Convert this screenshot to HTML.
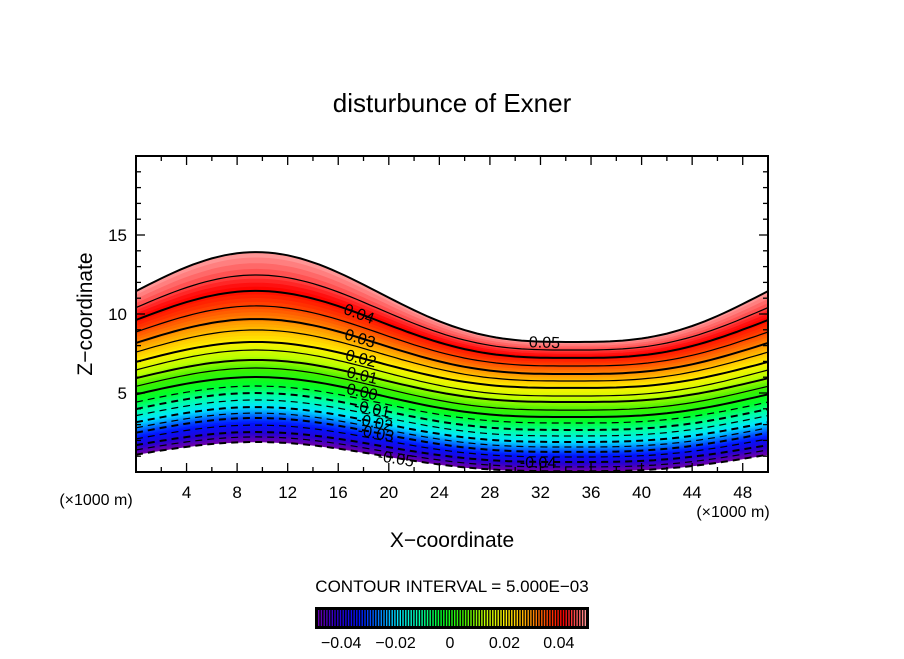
<!DOCTYPE html>
<html><head><meta charset="utf-8"><style>
body{margin:0;background:#fff;}
svg text{font-family:"Liberation Sans",sans-serif;fill:#000;}
</style></head><body>
<svg id="chart" width="904" height="654" viewBox="0 0 904 654" xmlns="http://www.w3.org/2000/svg">
<text x="452" y="112" font-size="26" text-anchor="middle">disturbunce of Exner</text>
<g id="plot"></g>
<text x="0" y="0" font-size="21" text-anchor="middle" transform="translate(92,314) rotate(-90)">Z−coordinate</text>
<text x="452" y="547" font-size="21" text-anchor="middle">X−coordinate</text>
<text x="96" y="505" font-size="16" text-anchor="middle">(×1000 m)</text>
<text x="733" y="517" font-size="16" text-anchor="middle">(×1000 m)</text>
<text x="452" y="592" font-size="17" text-anchor="middle">CONTOUR INTERVAL = 5.000E−03</text>
<g id="cbar"></g>
</svg>
<script>
const levels=[0.05,0.045,0.04,0.035,0.03,0.025,0.02,0.015,0.01,0.005,0,-0.005,-0.01,-0.015,-0.02,-0.025,-0.03,-0.035,-0.04,-0.045,-0.05];
const zPeak=[13.92,12.47,11.46,10.51,9.68,8.99,8.23,7.72,7.09,6.58,6.01,5.44,5.00,4.56,4.11,3.73,3.42,2.97,2.53,2.22,1.90];
const zTrough=[8.23,7.72,7.22,6.71,6.20,5.76,5.32,4.81,4.43,3.92,3.48,3.10,2.66,2.28,1.90,1.58,1.27,0.95,0.63,0.32,0.05];
const xTicks=[4,8,12,16,20,24,28,32,36,40,44,48];
const yTicks=[5,10,15];
const cbarTicks=[-0.04,-0.02,0,0.02,0.04];
const cbarTickLabels=["−0.04","−0.02","0","0.02","0.04"];
const labelVals=[0.05,0.04,0.03,0.02,0.01,0,-0.01,-0.02,-0.03,-0.04,-0.05];
const labelXs=[32.3,17.5,17.6,17.7,17.8,17.8,18.6,18.8,18.9,31.8,20.5];

const NS="http://www.w3.org/2000/svg";
const X0=136,X1=768,Y0=472,Y1=156;
const sx=x=>X0+(x/50)*(X1-X0);
const sy=z=>Y0-(z/20)*(Y0-Y1);
function shape(x){const c=(1+Math.cos(2*Math.PI*(x-9.5)/50))/2;return Math.pow(c,1.5);}
function zAt(i,x){return zTrough[i]+(zPeak[i]-zTrough[i])*shape(x);}
const stops=[[-0.05,[110,0,170]],[-0.042,[40,0,210]],[-0.034,[0,20,255]],[-0.027,[0,120,255]],[-0.02,[0,230,255]],[-0.012,[0,255,170]],[-0.004,[0,255,40]],[0.004,[60,240,0]],[0.012,[190,255,0]],[0.02,[255,240,0]],[0.028,[255,160,0]],[0.035,[255,70,0]],[0.041,[255,0,0]],[0.05,[255,160,160]]];
function color(v){
  if(v<=stops[0][0])return `rgb(${stops[0][1]})`;
  for(let i=1;i<stops.length;i++){if(v<=stops[i][0]){const a=stops[i-1],b=stops[i];const t=(v-a[0])/(b[0]-a[0]);const c=a[1].map((q,k)=>Math.round(q+(b[1][k]-q)*t));return `rgb(${c})`;}}
  return `rgb(${stops[stops.length-1][1]})`;
}
const plot=document.getElementById('plot');
const N=100;
function pts(i){const a=[];for(let k=0;k<=N;k++){const x=50*k/N;a.push(sx(x).toFixed(1)+','+sy(zAt(i,x)).toFixed(1));}return a;}
for(let i=0;i<levels.length-1;i++){
  const sub=4;
  for(let s=0;s<sub;s++){
    const f0=s/sub,f1=(s+1)/sub;
    const a=[],b=[];
    for(let k=0;k<=N;k++){const x=50*k/N;const zt=zAt(i,x),zb=zAt(i+1,x);
      a.push(sx(x).toFixed(1)+','+sy(zt+(zb-zt)*f0).toFixed(1));
      b.push(sx(x).toFixed(1)+','+sy(zt+(zb-zt)*f1).toFixed(1));}
    const p=document.createElementNS(NS,'polygon');
    
    
    p.setAttribute('points',a.concat(b.reverse()).join(' '));
    const v=levels[i]+(levels[i+1]-levels[i])*(f0+f1)/2;
    p.setAttribute('fill',color(v));p.setAttribute('stroke',color(v));p.setAttribute('stroke-width','0.6');
    plot.appendChild(p);
  }
}
for(let i=0;i<levels.length;i++){
  const l=document.createElementNS(NS,'polyline');
  
  
  l.setAttribute('points',pts(i).join(' '));
  l.setAttribute('fill','none');l.setAttribute('stroke','#000');
  const major=Math.abs(Math.round(levels[i]*200))%2===0;
  l.setAttribute('stroke-width',major?'2':'1.2');
  if(levels[i]<0)l.setAttribute('stroke-dasharray','7,5');
  plot.appendChild(l);
}
labelVals.forEach((v,j)=>{
  const i=levels.findIndex(q=>Math.abs(q-v)<1e-9);
  const x=labelXs[j];
  const px=sx(x),py=sy(zAt(i,x));
  const ang=Math.atan2(sy(zAt(i,x+0.5))-sy(zAt(i,x-0.5)),sx(x+0.5)-sx(x-0.5))*180/Math.PI;
  const t=document.createElementNS(NS,'text');
  
  
  t.setAttribute('font-size','16');t.setAttribute('text-anchor','middle');
  t.setAttribute('transform',`translate(${px.toFixed(1)},${(py+6).toFixed(1)}) rotate(${ang.toFixed(1)})`);
  t.textContent=v===0?'0.00':(v<0?'-':'')+Math.abs(v).toFixed(2);
  plot.appendChild(t);
});
const fr=document.createElementNS(NS,'rect');


fr.setAttribute('x',X0);fr.setAttribute('y',Y1);fr.setAttribute('width',X1-X0);fr.setAttribute('height',Y0-Y1);
fr.setAttribute('fill','none');fr.setAttribute('stroke','#000');fr.setAttribute('stroke-width','2');
plot.appendChild(fr);
function line(x1,y1,x2,y2,w,name){const l=document.createElementNS(NS,'line');
  
  
  l.setAttribute('x1',x1);l.setAttribute('y1',y1);l.setAttribute('x2',x2);l.setAttribute('y2',y2);l.setAttribute('stroke','#000');l.setAttribute('stroke-width',w);plot.appendChild(l);}
for(let x=2;x<50;x+=2){const big=x%4===0;const L=big?9:5;line(sx(x),Y0,sx(x),Y0-L,1.3,'x-tick');line(sx(x),Y1,sx(x),Y1+L,1.3,'x-tick');}
for(let z=1;z<20;z++){const big=z%5===0;const L=big?9:5;line(X0,sy(z),X0+L,sy(z),1.3,'y-tick');line(X1,sy(z),X1-L,sy(z),1.3,'y-tick');}
xTicks.forEach(v=>{const t=document.createElementNS(NS,'text');
  
  
  t.setAttribute('x',sx(v));t.setAttribute('y',498);t.setAttribute('font-size','17');t.setAttribute('text-anchor','middle');t.textContent=v;plot.appendChild(t);});
yTicks.forEach(v=>{const t=document.createElementNS(NS,'text');
  
  
  t.setAttribute('x',127);t.setAttribute('y',sy(v)+6);t.setAttribute('font-size','17');t.setAttribute('text-anchor','end');t.textContent=v;plot.appendChild(t);});
const cb=document.getElementById('cbar');
const cx=v=>452+v*2720;
const bg=document.createElementNS(NS,'rect');


bg.setAttribute('x',315);bg.setAttribute('y',607);bg.setAttribute('width',274);bg.setAttribute('height',22);bg.setAttribute('fill','#000');
cb.appendChild(bg);
for(let k=0;k<99;k++){const v=-0.049+k*0.001;
  const r=document.createElementNS(NS,'rect');
  
  
  r.setAttribute('x',(cx(v)-0.7).toFixed(1));r.setAttribute('y',610);r.setAttribute('width',1.4);r.setAttribute('height',16);r.setAttribute('fill',color(v));cb.appendChild(r);}
cbarTicks.forEach((v,j)=>{const t=document.createElementNS(NS,'text');
  
  
  t.setAttribute('x',cx(v)-2);t.setAttribute('y',648);t.setAttribute('font-size','16');t.setAttribute('text-anchor','middle');t.textContent=cbarTickLabels[j];cb.appendChild(t);});
</script>
</body></html>
